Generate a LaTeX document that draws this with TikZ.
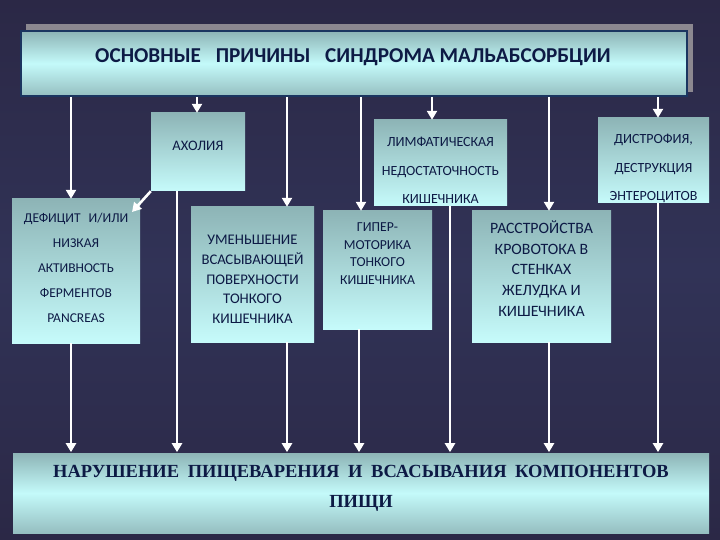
\documentclass[tikz,border=0pt]{standalone}
\usepackage{fontspec}
\setmainfont{Carlito}
\newfontfamily\serifru{Liberation Serif}
\usetikzlibrary{arrows.meta}
\definecolor{bgA}{HTML}{2B2846}
\definecolor{bgB}{HTML}{313357}
\definecolor{boxTop}{HTML}{8DB4B6}
\definecolor{boxBot}{HTML}{C6FBFB}
\definecolor{boxMid}{HTML}{C4FAFA}
\definecolor{txt}{HTML}{0D1A45}
\definecolor{frame}{HTML}{1B3560}
\definecolor{shadowc}{HTML}{8C8890}
\begin{document}
\begin{tikzpicture}[x=1pt,y=-1pt,
  smallbox/.style={rectangle, inner sep=0pt, top color=boxTop, bottom color=boxBot, draw=none},
  bigbox/.style={rectangle, inner sep=0pt, top color=boxTop, bottom color=boxTop!85!boxMid, middle color=boxMid, draw=frame, line width=1.6pt},
  boxtext/.style={text=txt, align=center, inner sep=0pt},
  arr/.style={draw=white, line width=2.6pt, -{Triangle[length=9pt,width=10pt]}}]
\useasboundingbox (0,0) rectangle (720,540);
\shade[top color=bgA, bottom color=bgA, middle color=bgB] (0,0) rectangle (720,540);
% top title box with shadow
\fill[shadowc] (26,24) rectangle (693,92);
\node[bigbox, minimum width=666pt, minimum height=65pt] (top) at (354,63.5) {};
\node[boxtext, font=\bfseries\fontsize{21.2}{24}\selectfont, text=txt] (topT) at (353,57) {ОСНОВНЫЕ\hspace{10pt} ПРИЧИНЫ\hspace{10pt} СИНДРОМА МАЛЬАБСОРБЦИИ};
% cause boxes
\node[smallbox, minimum width=94pt, minimum height=78pt] (axo) at (198,152) {};
\node[boxtext, font=\fontsize{14.5}{16}\selectfont] (axoT) at (198,146) {АХОЛИЯ};
\node[smallbox, minimum width=128pt, minimum height=144pt] (def) at (76,271) {};
\node[boxtext, font=\fontsize{13.5}{25}\selectfont] (defT) at (76,268) {ДЕФИЦИТ\hspace{5pt} И/ИЛИ\\НИЗКАЯ\\АКТИВНОСТЬ\\ФЕРМЕНТОВ\\PANCREAS};
\node[smallbox, minimum width=123pt, minimum height=135pt] (umen) at (252.5,274.5) {};
\node[boxtext, font=\fontsize{14.7}{19.75}\selectfont] (umenT) at (252.5,279.5) {УМЕНЬШЕНИЕ\\ВСАСЫВАЮЩЕЙ\\ПОВЕРХНОСТИ\\ТОНКОГО\\КИШЕЧНИКА};
\node[smallbox, minimum width=109pt, minimum height=118pt] (giper) at (377.5,270) {};
\node[boxtext, font=\fontsize{13.7}{17.7}\selectfont] (giperT) at (377.5,253.5) {ГИПЕР-\\МОТОРИКА\\ТОНКОГО\\КИШЕЧНИКА};
\node[smallbox, minimum width=133pt, minimum height=86pt] (limf) at (440.5,163) {};
\node[boxtext, font=\fontsize{14}{28.5}\selectfont] (limfT) at (440.5,170.5) {ЛИМФАТИЧЕСКАЯ\\НЕДОСТАТОЧНОСТЬ\\КИШЕЧНИКА};
\node[smallbox, minimum width=139pt, minimum height=131pt] (rass) at (541.5,276.5) {};
\node[boxtext, font=\fontsize{15.8}{20.75}\selectfont] (rassT) at (541.5,268.5) {РАССТРОЙСТВА\\КРОВОТОКА В\\СТЕНКАХ\\ЖЕЛУДКА И\\КИШЕЧНИКА};
\node[smallbox, minimum width=111pt, minimum height=85pt] (dist) at (653.5,160.5) {};
\node[boxtext, font=\fontsize{14}{28.5}\selectfont] (distT) at (653.5,168.5) {ДИСТРОФИЯ,\\ДЕСТРУКЦИЯ\\ЭНТЕРОЦИТОВ};
% bottom box
\node[bigbox, minimum width=696pt, minimum height=80pt, draw=none] (bot) at (361,493) {};
\node[boxtext, font=\serifru\bfseries\fontsize{18.5}{30}\selectfont] (botT) at (361,488) {НАРУШЕНИЕ\hspace{4pt} ПИЩЕВАРЕНИЯ\hspace{4pt} И\hspace{4pt} ВСАСЫВАНИЯ\hspace{4pt} КОМПОНЕНТОВ\\ПИЩИ};
% connector columns
\coordinate (c1) at (71,0);
\coordinate (c2) at (197,0);
\coordinate (c3) at (287,0);
\coordinate (c4) at (361,0);
\coordinate (c4b) at (359,0);
\coordinate (c5) at (432,0);
\coordinate (c5b) at (450,0);
\coordinate (c6) at (549,0);
\coordinate (c7) at (658,0);
\coordinate (c9) at (177,0);
% arrows from the title box
\draw[arr] (top.south -| c1) -- (def.north -| c1);
\draw[arr] (top.south -| c2) -- (axo.north -| c2);
\draw[arr] (top.south -| c3) -- (umen.north -| c3);
\draw[arr] (top.south -| c4) -- (giper.north -| c4);
\draw[arr] (top.south -| c5) -- (limf.north -| c5);
\draw[arr] (top.south -| c6) -- (rass.north -| c6);
\draw[arr] (top.south -| c7) -- (dist.north -| c7);
% axolia to deficit
\coordinate (dtip) at (132,212);
\draw[arr] (axo.south west) -- (dtip);
% arrows to the bottom box
\draw[arr] (axo.south -| c9) -- (bot.north -| c9);
\draw[arr] (def.south -| c1) -- (bot.north -| c1);
\draw[arr] (umen.south -| c3) -- (bot.north -| c3);
\draw[arr] (giper.south -| c4b) -- (bot.north -| c4b);
\draw[arr] (limf.south -| c5b) -- (bot.north -| c5b);
\draw[arr] (rass.south -| c6) -- (bot.north -| c6);
\draw[arr] (dist.south -| c7) -- (bot.north -| c7);
\end{tikzpicture}
\end{document}
